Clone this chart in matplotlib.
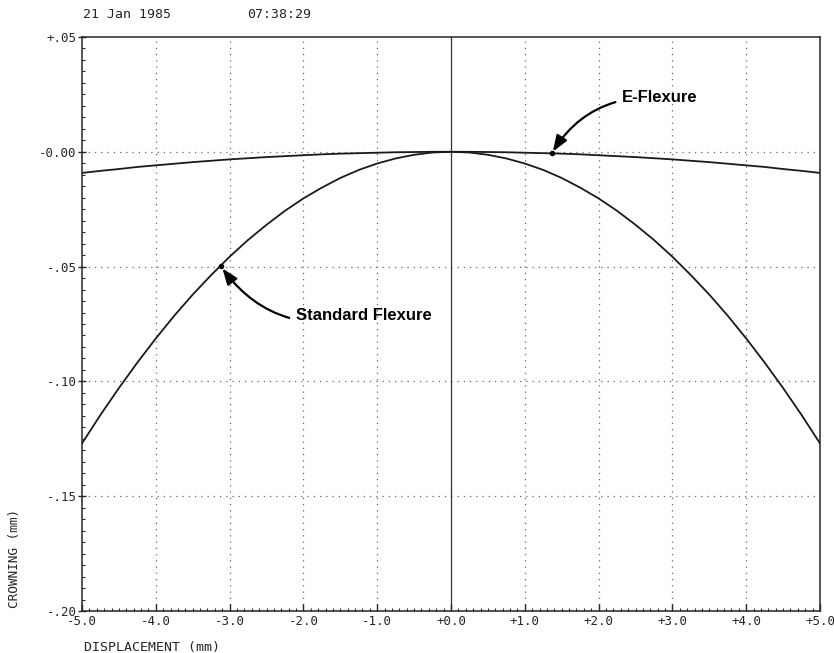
import matplotlib
matplotlib.use("Agg")
import matplotlib.pyplot as plt
from matplotlib.ticker import MultipleLocator, FixedLocator

# ---- data ----
displacement = [-5.0, -4.75, -4.5, -4.25, -4.0, -3.75, -3.5, -3.25, -3.0, -2.75, -2.5,
                -2.25, -2.0, -1.75, -1.5, -1.25, -1.0, -0.75, -0.5, -0.25, 0.0,
                0.25, 0.5, 0.75, 1.0, 1.25, 1.5, 1.75, 2.0, 2.25, 2.5,
                2.75, 3.0, 3.25, 3.5, 3.75, 4.0, 4.25, 4.5, 4.75, 5.0]
standard_flexure = [-0.1270, -0.1146, -0.1029, -0.0918, -0.0813, -0.0714, -0.0622, -0.0537,
                    -0.0457, -0.0384, -0.0318, -0.0257, -0.0203, -0.0156, -0.0114, -0.0079,
                    -0.0051, -0.0029, -0.0013, -0.0003, 0.0,
                    -0.0003, -0.0013, -0.0029, -0.0051, -0.0079, -0.0114, -0.0156, -0.0203,
                    -0.0257, -0.0318, -0.0384, -0.0457, -0.0537, -0.0622, -0.0714, -0.0813,
                    -0.0918, -0.1029, -0.1146, -0.1270]
e_flexure = [-0.0092, -0.0083, -0.0075, -0.0066, -0.0059, -0.0052, -0.0045, -0.0039,
             -0.0033, -0.0028, -0.0023, -0.0019, -0.0015, -0.0011, -0.0008, -0.0006,
             -0.0004, -0.0002, -0.0001, 0.0000, 0.0,
             0.0000, -0.0001, -0.0002, -0.0004, -0.0006, -0.0008, -0.0011, -0.0015,
             -0.0019, -0.0023, -0.0028, -0.0033, -0.0039, -0.0045, -0.0052, -0.0059,
             -0.0066, -0.0075, -0.0083, -0.0092]
x_ticks = [-5.0, -4.0, -3.0, -2.0, -1.0, 0.0, 1.0, 2.0, 3.0, 4.0, 5.0]
x_tick_labels = ["-5.0", "-4.0", "-3.0", "-2.0", "-1.0", "+0.0", "+1.0", "+2.0", "+3.0", "+4.0", "+5.0"]
y_ticks = [0.05, 0.0, -0.05, -0.10, -0.15, -0.20]
y_tick_labels = ["+.05", "-0.00", "-.05", "-.10", "-.15", "-.20"]
std_point = (-3.12, -0.0498)
e_point = (1.37, -0.0004)
std_text_pos = (-2.10, -0.0715)
e_text_pos = (2.32, 0.0235)

mono = "DejaVu Sans Mono"
W, H = 834, 653
fig = plt.figure(figsize=(W / 100, H / 100), dpi=100)
ax = fig.add_axes([82 / W, (H - 611) / H, (820 - 82) / W, (611 - 37) / H])

ax.set_xlim(-5, 5)
ax.set_ylim(-0.20, 0.05)

# grid
for xv in x_ticks[1:-1]:
    if xv != 0:
        ax.axvline(xv, color="0.4", lw=0.9, ls=(0, (1, 4)), zorder=1)
for yv in y_ticks[1:-1]:
    ax.axhline(yv, color="0.4", lw=0.9, ls=(0, (1, 4)), zorder=1)
ax.axvline(0, color="0.2", lw=0.9, zorder=1)

ax.plot(displacement, standard_flexure, color="0.1", lw=1.3, zorder=3)
ax.plot(displacement, e_flexure, color="0.1", lw=1.3, zorder=3)
ax.plot(*std_point, "o", color="black", ms=3, zorder=4)
ax.plot(*e_point, "o", color="black", ms=3, zorder=4)

ax.annotate("E-Flexure", xy=e_point, xytext=e_text_pos,
            fontsize=12, fontweight="bold", family="Liberation Sans",
            ha="left", va="center",
            arrowprops=dict(arrowstyle="-|>,head_length=0.8,head_width=0.3", color="black",
                            lw=1.6, shrinkA=3, shrinkB=1,
                            connectionstyle="arc3,rad=0.3"))
ax.annotate("Standard Flexure", xy=std_point, xytext=std_text_pos,
            fontsize=12, fontweight="bold", family="Liberation Sans",
            ha="left", va="center",
            arrowprops=dict(arrowstyle="-|>,head_length=0.8,head_width=0.3", color="black",
                            lw=1.6, shrinkA=3, shrinkB=2,
                            connectionstyle="arc3,rad=-0.35"))

# ticks
ax.xaxis.set_major_locator(FixedLocator(x_ticks))
ax.set_xticklabels(x_tick_labels, family=mono, fontsize=9)
ax.xaxis.set_minor_locator(MultipleLocator(0.1))
ax.yaxis.set_major_locator(FixedLocator(y_ticks))
ax.set_yticklabels(y_tick_labels, family=mono, fontsize=9)
ax.yaxis.set_minor_locator(MultipleLocator(0.005))
ax.tick_params(axis="x", which="major", direction="in", length=5, width=1, pad=3, colors="0.15")
ax.tick_params(axis="x", which="minor", direction="in", length=2.5, width=0.8, colors="0.15")
ax.tick_params(axis="y", which="major", direction="inout", length=6, width=1, pad=1, colors="0.15")
ax.tick_params(axis="y", which="minor", direction="in", length=2.5, width=0.8, colors="0.15")
for s in ax.spines.values():
    s.set_color("0.15")
    s.set_linewidth(1.1)

fig.text(83 / W, 1 - 15 / H, "21 Jan 1985", family=mono, fontsize=9.5, va="center", ha="left", color="0.15")
fig.text(247 / W, 1 - 15 / H, "07:38:29", family=mono, fontsize=9.5, va="center", ha="left", color="0.15")
fig.text(84 / W, 1 - 647 / H, "DISPLACEMENT (mm)", family=mono, fontsize=9.5, va="center", ha="left", color="0.15")
fig.text(15 / W, 1 - 558 / H, "CROWNING (mm)", family=mono, fontsize=9.2, va="center", ha="center",
         rotation=90, color="0.15")

fig.savefig("out.png", dpi=100)
